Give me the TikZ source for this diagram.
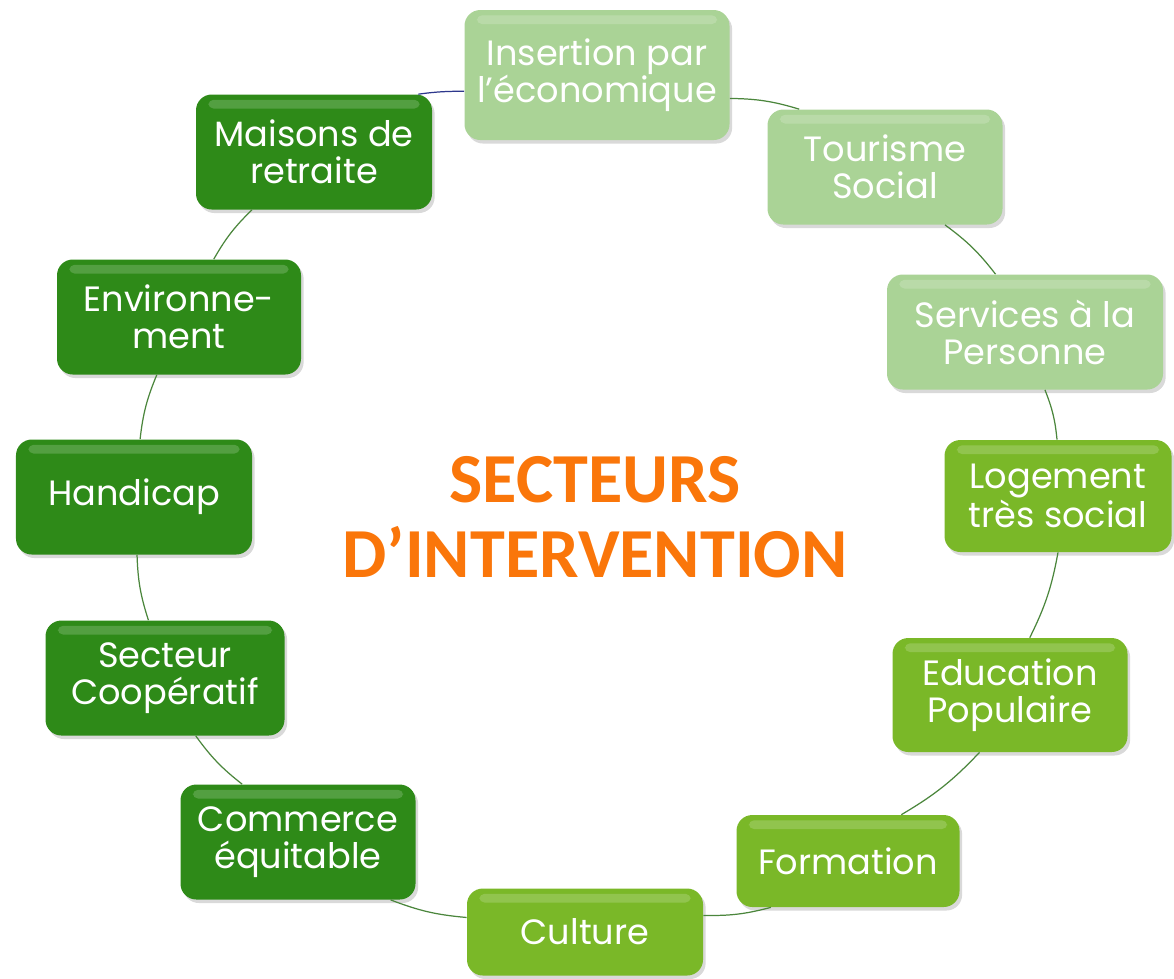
\documentclass[tikz,border=0pt]{standalone}
\usepackage{fontspec}
\setmainfont{Poppins}
\newfontfamily\titlefont{Carlito}
\usetikzlibrary{shadows}
\definecolor{secD}{RGB}{46,138,24}
\definecolor{secM}{RGB}{122,184,40}
\definecolor{secL}{RGB}{170,211,150}
\definecolor{secO}{RGB}{250,118,10}
\definecolor{secN}{RGB}{45,55,140}

\begin{document}
\begin{tikzpicture}[
  sbox/.style={rounded corners=9pt, text=white, align=center, inner sep=2pt,
    font=\fontsize{20}{21}\selectfont,
    drop shadow={opacity=0.3, shadow xshift=1.5pt, shadow yshift=-2pt},
    path picture={\fill[white, opacity=0.18, rounded corners=3pt]
      ([shift={(7pt,-3pt)}]path picture bounding box.north west) rectangle
      ([shift={(-7pt,-8pt)}]path picture bounding box.north east);}},
  boxD/.style={sbox, fill=secD},
  boxM/.style={sbox, fill=secM},
  boxL/.style={sbox, fill=secL},
  link/.style={draw=secD!65!gray, line width=0.7pt}]
\useasboundingbox (0,0) rectangle (23.48,-19.56);
% ===== light boxes (top right) =====
\node[boxL, minimum width=5.3cm, minimum height=2.6cm] (ins) at (11.94,-1.50) {Insertion par\\l’économique};
\node[boxL, minimum width=4.7cm, minimum height=2.3cm] (tour) at (17.70,-3.34) {Tourisme\\Social};
\node[boxL, minimum width=5.52cm, minimum height=2.3cm] (serv) at (20.50,-6.64) {Services à la\\Personne};
% ===== medium boxes (right, bottom) =====
\node[boxM, minimum width=4.54cm, minimum height=2.24cm] (loge) at (21.16,-9.92) {Logement\\très social};
\node[boxM, minimum width=4.7cm, minimum height=2.28cm] (educ) at (20.20,-13.90) {Education\\Populaire};
\node[boxM, minimum width=4.46cm, minimum height=1.84cm] (form) at (16.96,-17.22) {Formation};
\node[boxM, minimum width=4.72cm, minimum height=1.74cm] (cult) at (11.70,-18.64) {Culture};
% ===== dark boxes (left) =====
\node[boxD, minimum width=4.7cm, minimum height=2.3cm] (comm) at (5.96,-16.84) {Commerce\\équitable};
\node[boxD, minimum width=4.78cm, minimum height=2.3cm] (sect) at (3.30,-13.56) {Secteur\\Coopératif};
\node[boxD, minimum width=4.72cm, minimum height=2.3cm] (hand) at (2.68,-9.94) {Handicap};
\node[boxD, minimum width=4.88cm, minimum height=2.3cm] (envi) at (3.58,-6.34) {Environne-\\ment};
\node[boxD, minimum width=4.72cm, minimum height=2.3cm] (mais) at (6.28,-3.04) {Maisons de\\retraite};
% ===== links round the ring =====
\foreach \a/\sa/\b/\eb in {ins/-10/tour/146, tour/-44/serv/117, serv/-71/loge/91,
  loge/-90/educ/71, educ/-118/form/41, form/-149/cult/8, cult/173/comm/-32,
  comm/134/sect/-62, sect/106/hand/-87, hand/84/envi/-111, envi/59/mais/-137}
  \draw[link] (\a.\sa) to[bend left=8] (\b.\eb);
\draw[link, draw=secN] (mais.29) to[bend left=4] (ins.-173);
% centre title
\node[text=secO, align=center, font=\titlefont\bfseries\fontsize{40}{43}\selectfont] (titre) at (11.9,-10.34) {SECTEURS\\D’INTERVENTION};
\end{tikzpicture}
\end{document}
